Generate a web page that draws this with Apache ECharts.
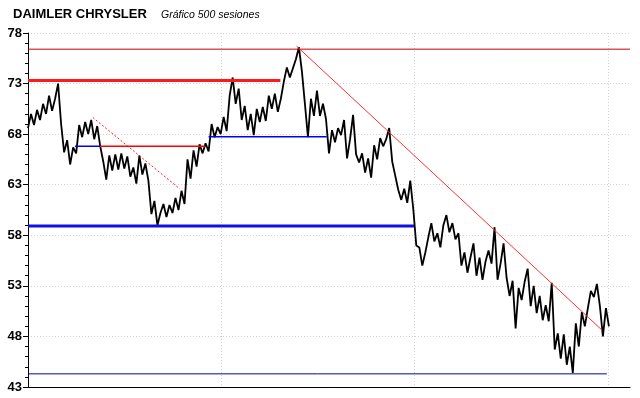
<!DOCTYPE html>
<html lang="es">

<head>
    <meta charset="UTF-8">
    <title>DAIMLER CHRYSLER</title>
    <script src="https://cdn.jsdelivr.net/npm/echarts@6/dist/echarts.min.js"></script>
    <style>
        * {
            margin: 0;
            padding: 0
        }

        html,
        body {
            width: 640px;
            height: 398px;
            background: #fff;
        }
    </style>
</head>

<body>
    <div id="main" style="width:640px;height:398px"></div>

    <script>
        // price path, one value every ~2.6 sessions (alternating highs / lows)
        var sessionStep = 2.6;
        var prices = [
            68.6, 70.0, 68.9, 70.4, 69.4, 71.0, 70.0, 71.8, 70.3, 71.5,
            73.0, 69.0, 66.2, 67.4, 65.0, 66.7, 66.1, 68.9, 67.7, 69.2,
            68.0, 69.4, 67.5, 68.8, 66.8, 65.3, 63.5, 65.9, 64.4, 66.0,
            64.5, 66.1, 64.6, 65.8, 63.8, 64.7, 63.1, 65.9, 64.0, 65.1,
            63.4, 60.1, 61.4, 59.0, 60.2, 61.1, 59.8, 61.0, 60.2, 61.7,
            60.5, 62.4, 61.1, 65.5, 63.6, 66.4, 64.8, 67.0, 66.1, 67.1,
            66.3, 69.0, 67.7, 68.7, 68.0, 69.7, 68.3, 71.8, 73.6, 71.0,
            72.5, 69.4, 70.8, 68.4, 70.0, 67.9, 70.5, 69.2, 70.7, 69.3,
            71.8, 70.5, 72.0, 70.2, 71.5, 73.2, 74.6, 73.6, 74.5, 75.4,
            76.6, 74.2, 71.0, 67.7, 71.5, 69.8, 72.3, 69.8, 71.0, 69.5,
            66.1, 68.4, 67.2, 68.6, 67.9, 69.4, 65.6, 67.5, 69.9, 66.0,
            65.2, 66.1, 64.2, 65.6, 63.7, 66.9, 65.5, 67.6, 66.8, 67.5,
            68.6, 65.3, 63.9, 62.5, 61.5, 62.6, 61.2, 63.4, 60.6, 57.0,
            56.8, 55.0, 56.3, 57.8, 59.2, 57.4, 58.2, 56.8, 59.0, 60.0,
            58.3, 59.2, 57.6, 58.2, 55.0, 56.3, 54.3, 55.8, 57.2, 54.0,
            55.8, 53.6, 55.4, 56.5, 55.2, 58.8, 53.6, 55.2, 57.2, 53.8,
            52.0, 53.5, 48.8, 52.8, 51.6, 53.4, 54.7, 51.0, 53.0, 50.3,
            52.0, 49.6, 51.1, 49.5, 53.3, 46.7, 48.3, 45.8, 48.2, 45.2,
            47.0, 44.4, 49.3, 47.0, 50.4, 49.0, 50.8, 52.5, 51.9, 53.2,
            51.0, 48.0, 50.8, 49.0
        ];

        // support / resistance and trend lines: [session, price] end points
        var resTop = [[0, 76.4], [520, 76.4]];
        var resMain = [[0, 73.3], [218, 73.3]];
        var supShort = [[40.6, 66.8], [62.2, 66.8]];
        var resMid = [[62.2, 66.8], [153, 66.8]];
        var supMid = [[156, 67.75], [258, 67.75]];
        var supMain = [[0, 58.93], [333.5, 58.93]];
        var supBottom = [[0, 44.3], [500, 44.3]];
        var trendShort = [[56, 69.65], [131, 62.6]];
        var trendLong = [[232, 76.7], [496, 48.6]];

        var yTicks = { min: 43, max: 78, interval: 5 };

        var priceData = prices.map(function (v, i) { return [i * sessionStep, v]; });

        function seg(data, color, width, type) {
            return {
                type: 'line',
                data: data,
                showSymbol: false,
                silent: true,
                z: 3,
                lineStyle: { color: color, width: width, type: type || 'solid' }
            };
        }

        var gridLine = { show: true, lineStyle: { color: '#d6d0dc', width: 1, type: [1, 2] } };

        echarts.init(document.getElementById('main')).setOption({
            animation: false,
            backgroundColor: '#fff',
            title: [{
                text: 'DAIMLER CHRYSLER',
                left: 8,
                top: 3,
                textStyle: { fontFamily: 'Liberation Sans', fontSize: 13, fontWeight: 'bold', color: '#000' }
            }, {
                text: 'Gráfico 500 sesiones',
                left: 156,
                top: 5,
                textStyle: { fontFamily: 'Liberation Sans', fontSize: 10.5, fontStyle: 'italic', fontWeight: 'normal', color: '#000' }
            }],
            grid: { left: 28, right: 10, top: 33, bottom: 11 },
            xAxis: {
                type: 'value',
                min: 0,
                max: 520,
                interval: 167,
                axisLine: { show: true, onZero: false, lineStyle: { color: '#000', width: 1 } },
                axisTick: { show: false },
                axisLabel: { show: false },
                splitLine: Object.assign({ showMinLine: false, showMaxLine: false }, gridLine)
            },
            yAxis: {
                type: 'value',
                min: yTicks.min,
                max: yTicks.max,
                interval: yTicks.interval,
                axisLine: { show: true, lineStyle: { color: '#000', width: 1 } },
                axisTick: { show: true, length: 5, lineStyle: { color: '#000' } },
                minorTick: { show: true, splitNumber: 5, length: 3, lineStyle: { color: '#000' } },
                axisLabel: {
                    margin: 6,
                    fontFamily: 'Liberation Sans',
                    fontSize: 13,
                    fontWeight: 'bold',
                    color: '#000'
                },
                splitLine: Object.assign({ showMinLine: false }, gridLine)
            },
            series: [
                {
                    type: 'line',
                    data: priceData,
                    showSymbol: false,
                    silent: true,
                    z: 2,
                    lineStyle: { color: '#000', width: 1.8 }
                },
                seg(resTop, '#c80000', 1),
                seg(resMain, '#ff1a1a', 3),
                seg(supShort, '#0000ee', 1.5),
                seg(resMid, '#ff0000', 1.5),
                seg(supMid, '#0000ee', 1.5),
                seg(supMain, '#1010e0', 3),
                seg(supBottom, '#0000b0', 1),
                seg(trendShort, '#ff2020', 1, [2, 2]),
                seg(trendLong, '#ff3030', 1)
            ]
        });
    </script>
</body>

</html>
